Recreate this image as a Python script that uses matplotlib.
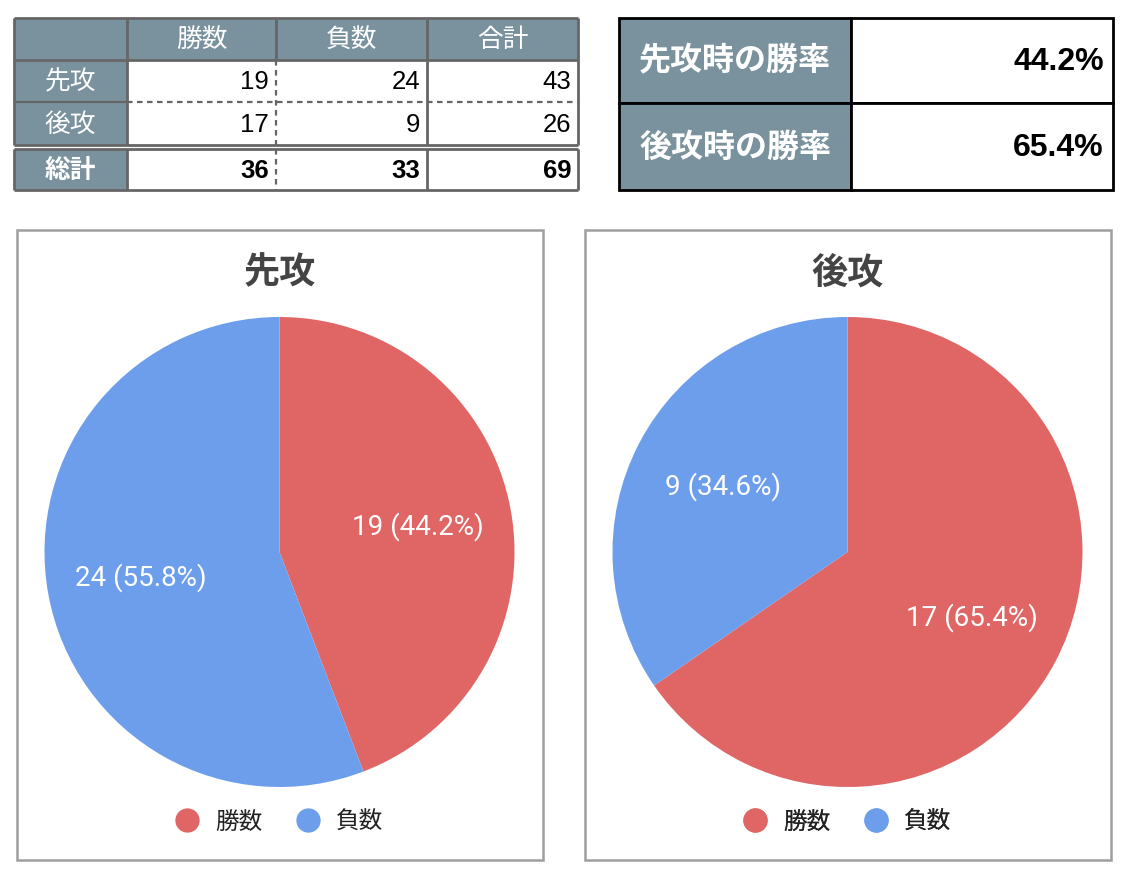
import matplotlib
matplotlib.use("Agg")
import matplotlib.pyplot as plt
from matplotlib.patches import Rectangle
from matplotlib.lines import Line2D

JP = ["Noto Sans CJK JP", "DejaVu Sans"]
NUM = ["Liberation Sans", "DejaVu Sans"]
ROBOTO = ["Roboto", "DejaVu Sans"]

# ---- data ----
col_labels = ["勝数", "負数", "合計"]
row_labels = ["先攻", "後攻"]
total_label = "総計"
wins = [19, 17]
losses = [24, 9]
rate_labels = ["先攻時の勝率", "後攻時の勝率"]
pie_titles = ["先攻", "後攻"]
legend_labels = ["勝数", "負数"]

RED = "#E06666"
BLUE = "#6D9EEB"
HEAD = "#7a929e"
GRID = "#666666"

row_totals = [w + l for w, l in zip(wins, losses)]
col_totals = [sum(wins), sum(losses), sum(row_totals)]
rates = [100 * w / t for w, t in zip(wins, row_totals)]

W, H = 1132, 880
fig = plt.figure(figsize=(W / 100, H / 100), dpi=100)
bg = fig.add_axes([0, 0, 1, 1])
bg.set_xlim(0, W)
bg.set_ylim(H, 0)
bg.axis("off")


def hline(y, x0, x1, ls="-", color=GRID, lw=1.6):
    bg.plot([x0, x1], [y, y], color=color, lw=lw, ls=ls, solid_capstyle="butt",
            dashes=(2.5, 2) if ls == "--" else (None, None))


def vline(x, y0, y1, ls="-", color=GRID, lw=1.6):
    bg.plot([x, x], [y0, y1], color=color, lw=lw, ls=ls, solid_capstyle="butt",
            dashes=(2.5, 2) if ls == "--" else (None, None))


# ---- counts table (top left) ----
xs = [14, 127, 276, 427, 578]
ys = [18, 60, 102, 145]
yt = [149, 190]
TFS = 18.5
bg.add_patch(Rectangle((xs[0], ys[0]), xs[-1] - xs[0], ys[1] - ys[0], color=HEAD, lw=0))
bg.add_patch(Rectangle((xs[0], ys[1]), xs[1] - xs[0], ys[3] - ys[1], color=HEAD, lw=0))
bg.add_patch(Rectangle((xs[0], yt[0]), xs[1] - xs[0], yt[1] - yt[0], color=HEAD, lw=0))

for i, lab in enumerate(col_labels):
    bg.text((xs[i + 1] + xs[i + 2]) / 2, (ys[0] + ys[1]) / 2 + 1, lab, color="white",
            fontsize=TFS, family=JP, ha="center", va="center")
for r, lab in enumerate(row_labels):
    yc = (ys[r + 1] + ys[r + 2]) / 2 + 1
    bg.text((xs[0] + xs[1]) / 2, yc, lab, color="white", fontsize=TFS, family=JP,
            ha="center", va="center")
    for c, v in enumerate([wins[r], losses[r], row_totals[r]]):
        bg.text(xs[c + 2] - 7, yc, str(v), fontsize=TFS, family=NUM,
                ha="right", va="center", color="black")
yc = (yt[0] + yt[1]) / 2 + 1
bg.text((xs[0] + xs[1]) / 2, yc, total_label, color="white", fontsize=TFS, family=JP,
        weight="bold", ha="center", va="center")
for c, v in enumerate(col_totals):
    bg.text(xs[c + 2] - 7, yc, str(v), fontsize=TFS, family=NUM, weight="bold",
            ha="right", va="center", color="black")

# grid lines
for y in (ys[0], ys[1], ys[3], yt[0], yt[1]):
    hline(y, xs[0], xs[-1], lw=2)
hline(ys[2], xs[0], xs[1])
hline(ys[2], xs[1], xs[-1], ls="--")
for x in (xs[0], xs[1], xs[3], xs[4]):
    vline(x, ys[0], ys[3], lw=2)
    vline(x, yt[0], yt[1], lw=2)
vline(xs[2], ys[0], ys[1], lw=2)
vline(xs[2], ys[1], ys[3], ls="--")
vline(xs[2], yt[0], yt[1], ls="--")

# ---- win rate table (top right) ----
rx = [619, 851, 1113]
ry = [18, 103, 190]
for i in range(2):
    bg.add_patch(Rectangle((rx[0], ry[i]), rx[1] - rx[0], ry[i + 1] - ry[i],
                           facecolor=HEAD, edgecolor="black", lw=2))
    bg.add_patch(Rectangle((rx[1], ry[i]), rx[2] - rx[1], ry[i + 1] - ry[i],
                           facecolor="white", edgecolor="black", lw=2))
    yc = (ry[i] + ry[i + 1]) / 2 + 1
    bg.text((rx[0] + rx[1]) / 2, yc, rate_labels[i], color="white", fontsize=23,
            family=JP, weight="bold", ha="center", va="center")
    bg.text(rx[2] - 9, yc, f"{rates[i]:.1f}%", color="black", fontsize=23,
            family=NUM, weight="bold", ha="right", va="center")

# ---- pie charts ----
boxes = [(17, 543), (585, 1111)]
by0, by1 = 230, 860
R = 235
cy = 552
for k in range(2):
    x0, x1 = boxes[k]
    cx = (x0 + x1) / 2 - 0.5
    bg.add_patch(Rectangle((x0, by0), x1 - x0, by1 - by0, facecolor="white",
                           edgecolor="#9e9e9e", lw=1.8, zorder=0))
    bg.text(cx, 273, pie_titles[k], fontsize=26, weight="bold", family=JP,
            color="#444444", ha="center", va="center")

    vals = [wins[k], losses[k]]
    tot = sum(vals)
    pax = fig.add_axes([(cx - R) / W, (H - cy - R) / H, 2 * R / W, 2 * R / H])
    _, _, autotexts = pax.pie(
        vals, colors=[RED, BLUE], startangle=90, counterclock=False,
        autopct=lambda p, t=tot: f"{round(p * t / 100)} ({p:.1f}%)",
        pctdistance=0.6, wedgeprops=dict(linewidth=0))
    for t in autotexts:
        t.set_color("white")
        t.set_fontsize(20)
        t.set_family(ROBOTO)
    pax.set_xlim(-1, 1)
    pax.set_ylim(-1, 1)
    pax.set_aspect("equal")
    pax.axis("off")

    handles = [Line2D([], [], ls="", marker="o", markersize=17.5,
                      markerfacecolor=c, markeredgewidth=0) for c in (RED, BLUE)]
    leg = bg.legend(handles, legend_labels, loc="center", ncol=2, frameon=False,
                    bbox_to_anchor=(cx / W, 1 - 822 / H),
                    bbox_transform=fig.transFigure,
                    prop={"family": JP, "size": 17}, handlelength=1.0,
                    handletextpad=0.7, columnspacing=1.4)
    for t in leg.get_texts():
        t.set_color("#222222")
    bg.add_artist(leg)

fig.savefig("out.png", dpi=100, facecolor="white")
